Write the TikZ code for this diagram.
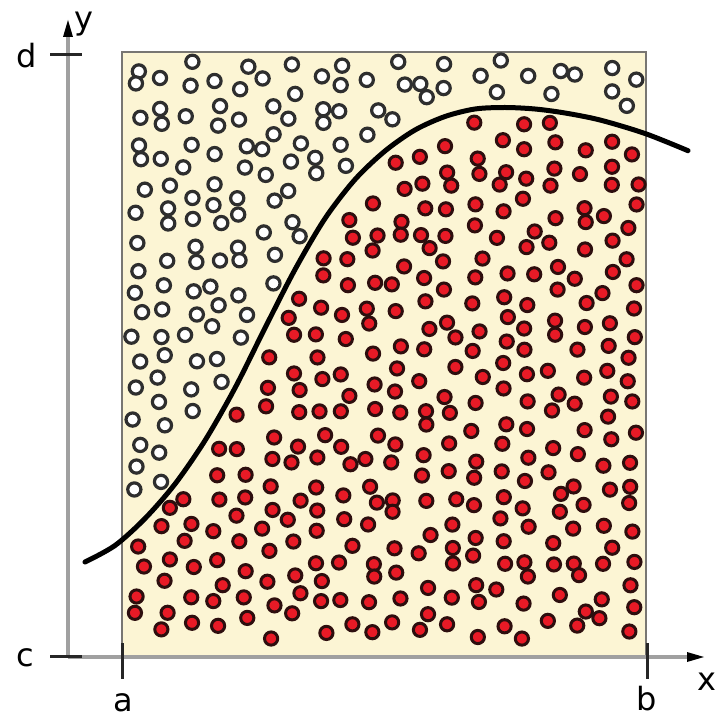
\documentclass[tikz,border=0pt]{standalone}
\usepackage{fontspec}
\setmainfont{DejaVu Sans}
\definecolor{beige}{RGB}{252,245,212}
\definecolor{dotred}{RGB}{232,26,38}
\definecolor{dotrim}{RGB}{45,14,14}
\definecolor{axisgray}{RGB}{160,160,160}
\definecolor{edgegray}{RGB}{120,118,114}
\def\curvepts{85/562,115/545.5,145/518.5,175/484,205/440.5,235/388,265/328,295/269.5,325/218.5,355/179.5,385/151,415/130,445/116.5,475/109,505/107.5,535/109,565/113,600/120,645/133.5,688/150.7}
\newcommand\getcy[1]{%
  \gdef\cy{0}\gdef\cs{0}%
  \foreach \xa/\ya [remember=\xa as \xp (initially 85), remember=\ya as \yp (initially 562)] in \curvepts {%
    \ifdim #1pt>\xp pt\relax
      \ifdim #1pt<\xa pt\relax
        \pgfmathsetmacro\tmpy{\yp+(#1-\xp)*(\ya-\yp)/(\xa-\xp)}\global\let\cy\tmpy
        \pgfmathsetmacro\tmps{(\ya-\yp)/(\xa-\xp)}\global\let\cs\tmps
      \fi
    \fi}}
\begin{document}
\begin{tikzpicture}[x=1pt,y=-1pt,
  reddot/.style={fill=dotred,draw=dotrim,line width=3pt},
  whitedot/.style={fill=white,draw=black!82,line width=3.2pt},
  curveline/.style={draw=black,line width=5pt,line cap=round},
  axisline/.style={draw=axisgray,line width=3.5pt},
  tickline/.style={draw=black!85,line width=3pt},
  boxedge/.style={draw=edgegray,line width=2.5pt},
  lbl/.style={font=\fontsize{32}{36}\selectfont,text=black,inner sep=0pt}]
\useasboundingbox (0,0) rectangle (726,719);
% plotting area
\fill[beige] (122,52) rectangle (646,656);
\draw[boxedge] (122,656) -- (122,52) -- (646,52) -- (646,656);
% random points
\pgfmathsetseed{2024}
\foreach \i in {0,...,19}{%
  \foreach \j in {0,...,22}{%
    \pgfmathsetmacro\dx{138+\i*26+7*rand}%
    \pgfmathsetmacro\dy{65+13*mod(\i,2)+\j*25.2+7.5*rand}%
    \getcy{\dx}%
    \pgfmathsetmacro\dist{(\dy-\cy)/sqrt(1+\cs*\cs)}%
    \ifdim\dist pt>11pt\relax
      \filldraw[reddot] (\dx,\dy) circle[radius=6.6pt];
    \else
      \ifdim\dist pt<-11pt\relax
        \filldraw[whitedot] (\dx,\dy) circle[radius=6.6pt];
      \fi
    \fi
  }}
% curve
\draw[curveline] plot[smooth,tension=0.5] coordinates {(85,562) (115,545.5) (145,518.5) (175,484) (205,440.5) (235,388) (265,328) (295,269.5) (325,218.5) (355,179.5) (385,151) (415,130) (445,116.5) (475,109) (505,107.5) (535,109) (565,113) (600,120) (645,133.5) (688,150.7)};
% axes
\coordinate (O) at (68,657);
\coordinate (xend) at (690,657);
\coordinate (yend) at (68,36);
\draw[axisline] (O) -- (xend);
\draw[axisline] (O) -- (yend);
\fill[black] (704,657) -- (687,652) -- (687,662) -- cycle;
\fill[black] (68,20) -- (63,37) -- (73,37) -- cycle;
% ticks
\draw[tickline] (50,55) -- (82,55);
\draw[tickline] (50,656) -- (82,656);
\draw[tickline] (122,643) -- (122,679);
\draw[tickline] (647,643) -- (647,679);
% labels
\node[lbl] (ld) at (27,56) {d};
\node[lbl] (lc) at (25,658) {c};
\node[lbl] (la) at (123,703) {a};
\node[lbl] (lb) at (647,699) {b};
\node[lbl] (lx) at (707,682) {x};
\node[lbl] (ly) at (84,24) {y};
\end{tikzpicture}
\end{document}
